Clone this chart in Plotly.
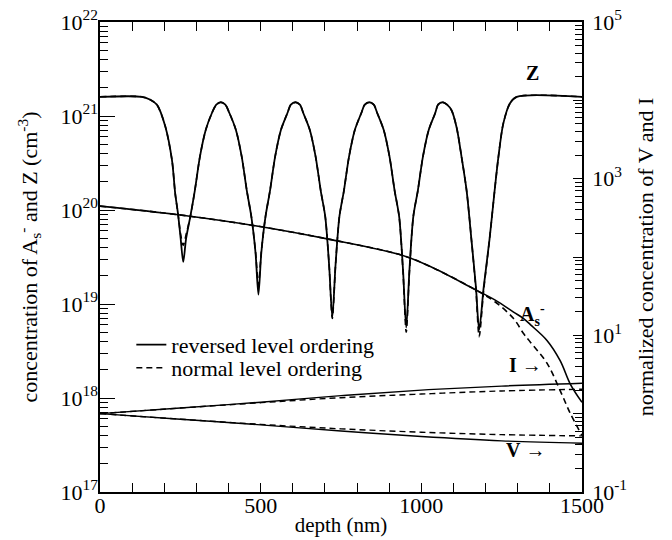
import plotly.graph_objects as go

# Z profile (left axis, cm^-3)
depth_z = [0, 130, 155, 177, 203, 224, 234, 243, 251, 259, 268, 281, 295, 311, 329, 348, 362, 376,
           390, 403, 423, 441, 457, 471, 484, 493, 502, 515, 529, 545, 563, 583, 594, 608,
           622, 633, 653, 671, 687, 701, 713, 723, 733, 745, 759, 775, 793, 813, 824, 838,
           852, 863, 883, 901, 917, 931, 943, 953, 963, 975, 989, 1005, 1023, 1043, 1052, 1066,
           1080, 1094, 1110, 1125, 1141, 1156, 1170, 1180, 1194, 1212, 1228, 1240, 1255, 1276, 1297, 1500]
z_reversed = [1.6e21, 1.6e21, 1.5e21, 1.32e21, 7.8e20, 3.4e20, 1.5e20, 9e19, 5e19, 2.8e19, 5e19, 8.5e19, 1.6e20, 3.7e20, 7.1e20, 1.07e21, 1.32e21, 1.4e21,
              1.32e21, 1.07e21, 7.1e20, 3.7e20, 1.6e20, 8.5e19, 3.5e19, 1.26e19, 3.5e19, 8.5e19, 1.6e20, 3.7e20, 7.1e20, 1.07e21, 1.32e21, 1.4e21,
              1.32e21, 1.07e21, 7.1e20, 3.7e20, 1.6e20, 8.5e19, 2.6e19, 7.2e18, 2.6e19, 8.5e19, 1.6e20, 3.7e20, 7.1e20, 1.07e21, 1.32e21, 1.4e21,
              1.32e21, 1.07e21, 7.1e20, 3.7e20, 1.6e20, 8.5e19, 2.3e19, 5.6e18, 2.3e19, 8.5e19, 1.6e20, 3.7e20, 7.1e20, 1.07e21, 1.32e21, 1.4e21,
              1.32e21, 1.15e21, 7.5e20, 3.7e20, 1.6e20, 4.8e19, 1.5e19, 5.3e18, 1.5e19, 4.8e19, 1.6e20, 3.7e20, 8.3e20, 1.37e21, 1.6e21, 1.6e21]
z_normal = [1.6e21, 1.6e21, 1.5e21, 1.32e21, 7.8e20, 3.4e20, 1.5e20, 9e19, 5.5e19, 4.2e19, 5.5e19, 8.5e19, 1.6e20, 3.7e20, 7.1e20, 1.07e21, 1.32e21, 1.4e21,
            1.32e21, 1.07e21, 7.1e20, 3.7e20, 1.6e20, 8.5e19, 3.6e19, 1.6e19, 3.6e19, 8.5e19, 1.6e20, 3.7e20, 7.1e20, 1.07e21, 1.32e21, 1.4e21,
            1.32e21, 1.07e21, 7.1e20, 3.7e20, 1.6e20, 8.5e19, 2.6e19, 7.0e18, 2.6e19, 8.5e19, 1.6e20, 3.7e20, 7.1e20, 1.07e21, 1.32e21, 1.4e21,
            1.32e21, 1.07e21, 7.1e20, 3.7e20, 1.6e20, 8.5e19, 2.2e19, 5.0e18, 2.2e19, 8.5e19, 1.6e20, 3.7e20, 7.1e20, 1.07e21, 1.32e21, 1.4e21,
            1.32e21, 1.15e21, 7.5e20, 3.7e20, 1.6e20, 4.8e19, 1.4e19, 4.5e18, 1.4e19, 4.8e19, 1.6e20, 3.7e20, 8.3e20, 1.37e21, 1.6e21, 1.6e21]

# As- profile (left axis)
depth_as = [0, 244, 483, 711, 940, 1028, 1163, 1230, 1287, 1318, 1340, 1391, 1432, 1464, 1500]
as_reversed = [1.1e20, 8.9e19, 6.8e19, 4.9e19, 3.3e19, 2.5e19, 1.45e19, 1.1e19, 8.2e18, 7.0e18, 6.0e18, 4.1e18, 2.5e18, 1.4e18, 9.0e17]
as_normal = [1.1e20, 8.9e19, 6.8e19, 4.9e19, 3.3e19, 2.5e19, 1.45e19, 1.05e19, 7.0e18, 4.85e18, 3.9e18, 2.35e18, 1.2e18, 6.8e17, 4.0e17]

# normalized V and I (right axis)
depth_vi = [0, 250, 500, 750, 1000, 1250, 1500]
i_reversed = [1.0, 1.18, 1.4, 1.7, 2.0, 2.25, 2.45]
i_normal = [1.0, 1.18, 1.38, 1.6, 1.78, 1.95, 2.05]
v_reversed = [1.0, 0.85, 0.72, 0.6, 0.51, 0.45, 0.42]
v_normal = [1.0, 0.85, 0.73, 0.64, 0.58, 0.54, 0.52]

FONT = "Liberation Serif"
DASH = "6px,4px"
SMOOTH = 0.8

fig = go.Figure()
fig.add_trace(go.Scatter(x=depth_z, y=z_reversed, mode="lines", name="reversed level ordering",
                         legend="legend",
                         line=dict(color="black", width=1.8, shape="spline", smoothing=SMOOTH)))
fig.add_trace(go.Scatter(x=depth_z, y=z_normal, mode="lines", name="normal level ordering",
                         legend="legend2",
                         line=dict(color="black", width=1.6, dash=DASH, shape="spline", smoothing=SMOOTH)))
fig.add_trace(go.Scatter(x=depth_as, y=as_reversed, mode="lines", showlegend=False,
                         line=dict(color="black", width=1.6, shape="spline")))
fig.add_trace(go.Scatter(x=depth_as, y=as_normal, mode="lines", showlegend=False,
                         line=dict(color="black", width=1.6, dash=DASH, shape="spline")))
for vals, dash in [(i_reversed, None), (i_normal, DASH), (v_reversed, None), (v_normal, DASH)]:
    fig.add_trace(go.Scatter(x=depth_vi, y=vals, mode="lines", showlegend=False, yaxis="y2",
                             line=dict(color="black", width=1.4, dash=dash, shape="spline")))

left_major = [10.0 ** e for e in range(17, 23)]
left_minor = [m * 10.0 ** e for e in range(17, 22) for m in range(2, 10)]
right_major = [10.0 ** e for e in range(-1, 6)]
right_minor = [m * 10.0 ** e for e in range(-1, 5) for m in range(2, 10)]

tick_font = dict(family=FONT, size=22, color="black")
title_font = dict(family=FONT, size=22, color="black")
label_font = dict(family=FONT, size=20, color="black")
legend_font = dict(family=FONT, size=22, color="black")

fig.update_layout(
    width=672, height=540,
    margin=dict(l=100, r=90, t=22, b=48, autoexpand=False),
    paper_bgcolor="white", plot_bgcolor="white",
    font=dict(family=FONT, color="black"),
    xaxis=dict(range=[0, 1500], tickvals=[0, 500, 1000, 1500], ticks="inside", ticklen=9,
               tickcolor="black", mirror="ticks", showline=True, linecolor="black", linewidth=1.5,
               showgrid=False, zeroline=False, tickfont=tick_font, automargin=False,
               ticklabelstandoff=-7, ticklabeloverflow="allow",
               minor=dict(tickvals=[100, 200, 300, 400, 600, 700, 800, 900, 1100, 1200, 1300, 1400],
                          ticks="inside", ticklen=9, tickcolor="black", showgrid=False),
               title=dict(text="depth (nm)", font=dict(family=FONT, size=21, color="black"), standoff=0)),
    yaxis=dict(type="log", range=[17, 22], tickvals=left_major,
               ticktext=["10<sup>%d</sup>" % e for e in range(17, 23)],
               ticks="inside", ticklen=15, tickcolor="black", showline=True, linecolor="black",
               linewidth=1.5, showgrid=False, zeroline=False, tickfont=tick_font, automargin=False,
               ticklabelstandoff=-4, ticklabeloverflow="allow",
               minor=dict(tickvals=left_minor, ticks="inside", ticklen=8, tickcolor="black", showgrid=False),
               title=dict(text="concentration of A<sub>s</sub><sup>-</sup> and Z (cm<sup>-3</sup>)",
                          font=title_font, standoff=17)),
    yaxis2=dict(type="log", range=[-1, 5], overlaying="y", side="right", tickvals=right_major,
                ticktext=["10<sup>%d</sup>" % e if e % 2 else "" for e in range(-1, 6)],
                ticks="inside", ticklen=9, tickcolor="black", showline=True, linecolor="black",
                linewidth=1.5, showgrid=False, zeroline=False, tickfont=tick_font, automargin=False,
                ticklabelstandoff=4, ticklabeloverflow="allow",
                minor=dict(tickvals=right_minor, ticks="inside", ticklen=7, tickcolor="black", showgrid=False),
                title=dict(text="normalized concentration of V and I", font=title_font, standoff=12)),
    legend=dict(x=0.065, y=0.313, xanchor="left", yanchor="middle", bgcolor="rgba(0,0,0,0)",
                font=legend_font),
    legend2=dict(x=0.065, y=0.264, xanchor="left", yanchor="middle", bgcolor="rgba(0,0,0,0)",
                 font=legend_font),
    annotations=[
        dict(x=1345, y=21.46, xref="x", yref="y", text="<b>Z</b>", showarrow=False, font=label_font),
        dict(x=1345, y=18.88, xref="x", yref="y", text="<b>A<sub>s</sub><sup>-</sup></b>",
             showarrow=False, font=label_font),
        dict(x=1325, y=0.62, xref="x", yref="y2", text="<b>I</b> \u2192", showarrow=False, font=label_font),
        dict(x=1325, y=-0.47, xref="x", yref="y2", text="<b>V</b> \u2192", showarrow=False, font=label_font),
    ],
)

# drop the default page margin so the 672x540 figure fills the window exactly
fig.write_html("out.html", config={"displayModeBar": False},
               post_script="document.body.style.margin = '0';")
